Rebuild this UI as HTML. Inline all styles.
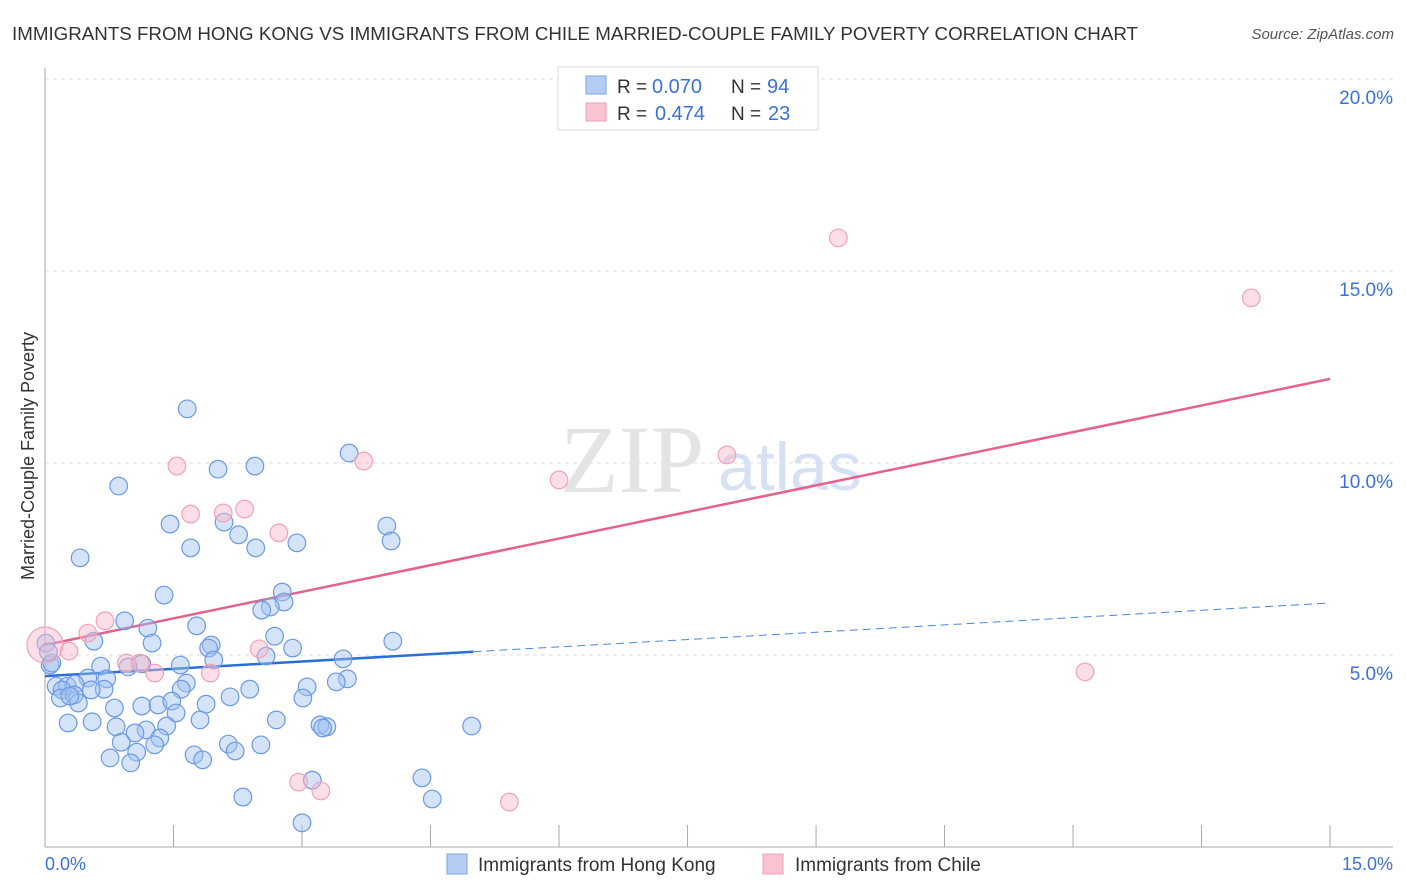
<!DOCTYPE html>
<html><head><meta charset="utf-8"><style>
body{margin:0;background:#fff;font-family:"Liberation Sans",sans-serif;}
svg{display:block}
</style></head><body>
<svg width="1406" height="892">
<text x="12" y="40" font-size="18" fill="#333" textLength="1126" lengthAdjust="spacingAndGlyphs">IMMIGRANTS FROM HONG KONG VS IMMIGRANTS FROM CHILE MARRIED-COUPLE FAMILY POVERTY CORRELATION CHART</text>
<text x="1394" y="39" font-size="15" fill="#555" font-style="italic" text-anchor="end">Source: ZipAtlas.com</text>
<g id="grid"></g>
<text x="560" y="492" font-size="96" font-family="Liberation Serif,serif" fill="#e4e4e4">ZIP</text>
<text x="718" y="490" font-size="68" fill="#d6e2f4">atlas</text>
<g id="axes"></g>
<g id="lines"></g>
<g id="pts"></g>
<text transform="translate(34,456) rotate(-90)" font-size="18" fill="#333" text-anchor="middle">Married-Couple Family Poverty</text>
<g>
<rect x="558" y="67" width="260" height="63" fill="#fff" stroke="#ddd"/>
<rect x="586" y="76" width="20" height="18" fill="#b5cdf5" stroke="#7aa2e6"/>
<rect x="586" y="103" width="20" height="18" fill="#f9c4d2" stroke="#f0a0b8"/>
<text x="617" y="93" font-size="19" fill="#333">R =</text>
<text x="652" y="93" font-size="20" fill="#3a72d8">0.070</text>
<text x="731" y="93" font-size="19" fill="#333">N =</text>
<text x="767" y="93" font-size="20" fill="#3a72d8">94</text>
<text x="617" y="120" font-size="19" fill="#333">R =</text>
<text x="655" y="120" font-size="20" fill="#3a72d8">0.474</text>
<text x="731" y="120" font-size="19" fill="#333">N =</text>
<text x="768" y="120" font-size="20" fill="#3a72d8">23</text>
</g>
<g>
<rect x="447" y="854" width="20" height="20" fill="#b5cdf5" stroke="#7aa2e6"/>
<text x="478" y="871" font-size="19" fill="#333">Immigrants from Hong Kong</text>
<rect x="763" y="854" width="20" height="20" fill="#f9c4d2" stroke="#f0a0b8"/>
<text x="795" y="871" font-size="19" fill="#333">Immigrants from Chile</text>
</g>
</svg>
<script>
const yTicks=[5,10,15,20];
const yTickLabels=["5.0%","10.0%","15.0%","20.0%"];
const xTickLabels=["0.0%","15.0%"];
const blueX=[1.66,0.86,0.41,1.46,2.02,2.45,3.55,1.70,2.09,2.26,2.46,2.94,3.99,4.04,1.39,2.77,2.79,2.63,2.53,0.93,1.77,1.20,2.68,0.57,1.25,1.94,1.91,2.89,4.06,2.58,1.97,3.48,0.06,0.65,1.13,0.97,1.58,3.53,3.40,0.50,0.72,1.65,0.13,0.26,0.35,0.69,1.59,0.20,0.54,2.39,3.06,3.01,2.16,0.18,0.34,0.81,1.13,1.32,1.88,1.48,1.53,0.39,0.29,0.27,0.55,1.81,2.70,0.83,1.18,1.42,3.21,3.29,3.24,4.98,1.05,1.34,0.89,1.28,2.14,2.52,1.07,0.76,1.74,1.84,2.22,1.00,3.12,4.40,2.31,4.52,3.00,0.01,0.08,0.04];
const blueY=[11.41,9.40,7.53,8.41,9.84,9.92,10.26,7.79,8.46,8.13,7.79,7.92,8.36,7.97,6.56,6.64,6.38,6.25,6.17,5.89,5.76,5.70,5.49,5.36,5.31,5.26,5.18,5.18,5.36,4.97,4.87,4.90,4.74,4.71,4.77,4.69,4.74,4.38,4.30,4.40,4.38,4.27,4.19,4.19,4.24,4.11,4.11,4.09,4.09,4.11,4.17,3.88,3.91,3.88,3.96,3.62,3.67,3.70,3.72,3.80,3.49,3.75,3.93,3.23,3.26,3.31,3.31,3.13,3.05,3.15,3.18,3.13,3.10,3.15,2.97,2.84,2.73,2.66,2.68,2.66,2.47,2.32,2.40,2.27,2.50,2.19,1.74,1.80,1.30,1.25,0.63,5.31,4.79,5.08];
const pinkX=[9.26,14.08,7.96,6.00,3.72,1.54,2.33,2.08,1.70,2.73,0.70,0.50,0.95,0.28,1.11,1.28,2.50,1.93,12.14,2.96,3.22,5.42,0];
const pinkY=[15.86,14.30,10.21,9.56,10.05,9.92,8.80,8.70,8.67,8.18,5.89,5.57,4.79,5.10,4.79,4.53,5.16,4.53,4.56,1.69,1.46,1.17,5.26];
const pinkTrend=[5.26,0.462];
const blueTrend=[4.45,0.127];
const blueSolidEnd=5.0;
const X=v=>45+v*85.67, Y=v=>847-v*38.4;
const NS="http://www.w3.org/2000/svg";
function mk(p,t,a){const e=document.createElementNS(NS,t);for(const k in a)e.setAttribute(k,a[k]);document.getElementById(p).appendChild(e);return e;}
yTicks.forEach((t,i)=>{
 const l=mk('grid','line',{x1:45,x2:1393,y1:Y(t),y2:Y(t),stroke:'#ddd','stroke-dasharray':'4,4'});
 
 
 const tx=mk('axes','text',{x:1393,y:Y(t)+25,'font-size':19,fill:'#3a72d8','text-anchor':'end'});
 tx.textContent=yTickLabels[i];
 
 
});
mk('axes','line',{x1:45,x2:45,y1:68,y2:847,stroke:'#aaa'});
mk('axes','line',{x1:45,x2:1393,y1:847,y2:847,stroke:'#aaa'});
for(let i=0;i<=10;i++){const t=mk('axes','line',{x1:X(i*1.5),x2:X(i*1.5),y1:825,y2:847,stroke:'#aaa'});
 
 }
const xl0=mk('axes','text',{x:45,y:870,'font-size':18,fill:'#3a72d8'});xl0.textContent=xTickLabels[0];

const xl1=mk('axes','text',{x:1393,y:870,'font-size':18,fill:'#3a72d8','text-anchor':'end'});xl1.textContent=xTickLabels[1];

blueX.forEach((x,i)=>{const c=mk('pts','circle',{cx:X(x),cy:Y(blueY[i]),r:8.8,fill:'rgba(160,192,240,0.45)',stroke:'#6b9ae3','stroke-width':1.2});
 
 });
pinkX.forEach((x,i)=>{const c=mk('pts','circle',{cx:X(x),cy:Y(pinkY[i]),r:i===pinkX.length-1?18:8.8,fill:'rgba(248,182,202,0.45)',stroke:'#f0a3bb','stroke-width':1.2});
 
 });
const pl=mk('lines','line',{x1:X(0),y1:Y(pinkTrend[0]),x2:X(15),y2:Y(pinkTrend[0]+15*pinkTrend[1]),stroke:'#e4628e','stroke-width':2.5});


const bl=mk('lines','line',{x1:X(0),y1:Y(blueTrend[0]),x2:X(blueSolidEnd),y2:Y(blueTrend[0]+blueSolidEnd*blueTrend[1]),stroke:'#2a6fd6','stroke-width':2.5});


const bd=mk('lines','line',{x1:X(blueSolidEnd),y1:Y(blueTrend[0]+blueSolidEnd*blueTrend[1]),x2:X(15),y2:Y(blueTrend[0]+15*blueTrend[1]),stroke:'#4a86dd','stroke-width':1,'stroke-dasharray':'8,5'});


</script>
</body></html>
